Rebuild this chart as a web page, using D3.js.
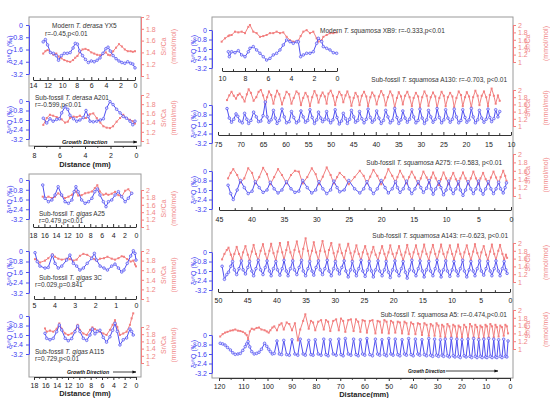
<!DOCTYPE html>
<html>
<head>
<meta charset="utf-8">
<script src="https://cdn.jsdelivr.net/npm/d3@7/dist/d3.min.js"></script>
<style>
  body { margin: 0; background: #fff; }
  svg { font-family: Arial, "Liberation Sans", sans-serif; }
</style>
</head>
<body>
<svg id="chart" width="550" height="398"></svg>
<script>
// ---- values (distance in mm, d18O in permil, Sr/Ca in mmol/mol) ----
const oTicks = [0, -0.8, -1.6, -2.4, -3.2];
const srTicks = [1, 1.2, 1.4, 1.6, 1.8, 2];

const ticksYX5 = [14, 12, 10, 8, 6, 4, 2, 0];
const ticksA201 = [8, 6, 4, 2, 0];
const ticksA25 = [18, 16, 14, 12, 10, 8, 6, 4, 2, 0];
const ticks3C = [5, 4, 3, 2, 1, 0];
const ticksA115 = [18, 16, 14, 12, 10, 8, 6, 4, 2, 0];
const ticksXB9 = [10, 8, 6, 4, 2, 0];
const ticksA130 = [75, 70, 65, 60, 55, 50, 45, 40, 35, 30, 25, 20, 15, 10];
const ticksA275 = [45, 40, 35, 30, 25, 20, 15, 10, 5, 0];
const ticksA143 = [50, 45, 40, 35, 30, 25, 20, 15, 10, 5, 0];
const ticksA5 = [120, 110, 100, 90, 80, 70, 60, 50, 40, 30, 20, 10, 0];

// Modern T. derasa YX5
const yx5Dist = [12.6,12.3,12.0,11.6,11.2,10.8,10.5,10.1,9.7,9.3,8.9,8.5,8.2,7.9,7.6,7.2,6.8,6.4,6.0,5.6,5.2,4.8,4.4,4.0,3.7,3.4,3.0,2.6,2.2,1.8,1.4,1.0,0.6,0.3,0.0];
const yx5O = [-1.1,-0.95,-1.3,-1.8,-1.85,-2.0,-2.3,-2.0,-1.85,-1.85,-1.8,-1.5,-1.2,-1.25,-1.7,-2.0,-2.25,-2.45,-2.35,-2.4,-2.3,-2.15,-1.85,-1.55,-1.45,-1.7,-2.0,-2.2,-2.35,-2.45,-2.5,-2.4,-2.5,-2.55,-2.8];
const yx5Sr = [1.38,1.42,1.44,1.4,1.36,1.38,1.33,1.3,1.27,1.25,1.24,1.27,1.31,1.34,1.4,1.45,1.46,1.44,1.40,1.38,1.36,1.35,1.37,1.4,1.36,1.35,1.42,1.48,1.54,1.50,1.45,1.42,1.42,1.41,1.42];

// Sub-fossil T. derasa A201
const a201Dist = [7.27,7.0,6.75,6.5,6.22,6.0,5.83,5.57,5.35,5.18,4.9,4.65,4.4,4.13,3.92,3.75,3.61,3.35,3.08,2.8,2.56,2.3,2.04,1.8,1.52,1.25,1.0,0.75,0.47,0.25,0.08];
const a201O = [-1.45,-1.85,-1.5,-1.7,-1.55,-1.5,-1.0,-0.5,-0.7,-1.2,-1.5,-1.7,-1.6,-1.4,-0.8,-1.3,-1.7,-1.75,-1.7,-1.6,-1.5,-0.6,-0.05,-0.3,-0.7,-1.0,-1.3,-1.45,-1.7,-2.0,-1.7];
const a201Sr = [1.35,1.5,1.57,1.55,1.52,1.49,1.47,1.4,1.42,1.5,1.53,1.52,1.55,1.5,1.5,1.55,1.58,1.6,1.5,1.4,1.32,1.29,1.28,1.32,1.42,1.5,1.57,1.5,1.46,1.43,1.38];

// Sub-fossil T. gigas A25
const a25Dist = [16.3,15.9,15.3,14.7,14.15,13.6,13.0,12.4,11.8,11.2,10.8,10.5,10.1,9.5,8.9,8.3,7.7,7.2,6.76,6.3,5.7,5.24,4.83,4.24,3.66,3.08,2.5,1.9,1.34,0.75];
const a25O = [-0.41,-1.5,-1.78,-1.64,-1.23,-0.55,-1.23,-1.78,-1.91,-1.64,-0.96,-0.55,-0.96,-1.64,-1.91,-1.78,-1.5,-0.96,-0.74,-1.23,-1.78,-2.19,-1.78,-1.64,-1.23,-0.96,-1.37,-1.78,-1.5,-1.09];
const a25Sr = [1.82,1.78,1.82,1.78,1.82,1.91,1.85,1.78,1.82,1.87,1.95,1.96,1.85,1.86,1.91,1.93,1.96,2.05,2.13,1.96,1.87,1.9,1.87,1.9,1.95,1.86,1.82,1.98,2.02,1.91];

// Sub-fossil T. gigas 3C
const c3Dist = [4.95,4.84,4.71,4.46,4.3,4.1,3.97,3.81,3.64,3.4,3.24,3.07,2.91,2.75,2.58,2.39,2.17,2.04,1.93,1.76,1.57,1.4,1.19,1.03,0.86,0.7,0.59,0.43,0.26,0.13,0.05,0.0];
const c3O = [-0.13,-0.81,-1.15,-1.3,-1.25,-0.31,-0.94,-1.3,-1.15,-0.69,-0.31,-0.94,-1.15,-1.45,-1.3,-0.94,-0.56,-0.18,-0.69,-1.15,-1.3,-1.45,-1.15,-1.0,-1.3,-1.6,-1.45,-0.94,-0.38,0.02,-0.18,-0.69];
const c3Sr = [1.83,1.8,1.76,1.8,1.85,1.93,1.88,1.84,1.82,1.84,1.83,1.8,1.82,1.9,1.94,1.92,1.86,1.83,1.8,1.84,1.85,1.88,1.84,1.82,1.85,1.89,1.88,1.83,1.78,1.8,1.72,1.68];

// Sub-fossil T. gigas A115
const a115Dist = [16.06,15.76,15.18,14.6,14.0,13.53,13.11,12.5,11.95,11.35,10.77,10.3,9.9,9.3,8.7,8.12,7.7,7.24,6.83,6.36,5.78,5.2,4.6,4.12,3.71,3.3,2.83,2.25,1.66,1.07,0.77,0.49];
const a115O = [-1.46,-1.88,-2.0,-1.88,-1.32,-0.76,-1.18,-1.88,-2.08,-1.9,-1.32,-0.85,-1.3,-1.88,-2.05,-1.6,-1.1,-1.5,-1.3,-1.2,-1.8,-2.2,-1.75,-1.2,-0.62,-1.3,-2.44,-2.0,-1.85,-1.1,-1.3,-1.6];
const a115Sr = [1.96,1.87,1.9,1.87,1.95,2.1,1.95,1.82,1.78,1.82,1.9,2.06,1.92,1.82,1.78,1.92,1.99,1.94,1.9,1.87,1.82,1.78,1.92,2.06,2.19,2.0,1.78,1.82,1.87,2.06,2.24,2.38];

// Modern T. squamosa XB9 (no d18O at the first two samples)
const xb9Dist = [10.03,9.74,9.45,9.36,9.16,8.87,8.58,8.29,8.0,7.71,7.57,7.28,6.99,6.7,6.41,6.12,5.83,5.54,5.25,4.96,4.67,4.38,4.09,3.8,3.51,3.36,3.16,2.93,2.64,2.35,2.06,1.77,1.62,1.33,1.19,0.9,0.61,0.32,0.03];
const xb9O = [null,null,-1.83,-2.25,-1.83,-1.91,-1.74,-2.1,-2.25,-1.83,-1.54,-1.4,-1.68,-1.96,-2.25,-2.53,-2.39,-2.1,-1.96,-1.68,-1.26,-0.84,-0.98,-1.12,-0.98,-1.0,-2.25,-2.1,-1.96,-1.96,-1.83,-1.12,-0.7,-0.98,-1.4,-1.54,-1.68,-1.91,-1.96];
const xb9Sr = [1.55,1.64,1.7,1.72,1.73,1.82,1.8,1.82,1.78,1.95,2.0,1.82,1.78,1.68,1.7,1.73,1.78,1.78,1.82,1.78,1.8,1.68,1.59,1.55,1.55,1.58,1.7,1.82,1.86,1.78,1.82,1.64,1.55,1.59,1.68,1.73,1.78,1.78,1.8];

// Sub-fossil T. squamosa A130
const a130Dist = [73.0,72.5,72.0,71.5,71.0,70.6,70.2,69.6,69.1,68.6,68.2,67.7,67.1,66.5,66.0,65.5,65.0,64.5,64.1,63.7,63.2,62.7,62.3,61.9,61.4,60.8,60.3,59.8,59.2,58.7,58.2,57.6,57.1,56.6,56.1,55.6,55.1,54.6,54.1,53.6,53.1,52.7,52.2,51.8,51.3,50.9,50.5,50.0,49.5,49.0,48.6,48.1,47.6,47.2,46.7,46.3,45.8,45.4,44.9,44.5,44.0,43.6,43.1,42.6,42.1,41.7,41.2,40.8,40.3,39.8,39.3,38.8,38.3,37.8,37.3,36.8,36.3,35.8,35.3,34.9,34.4,34.0,33.5,33.0,32.5,32.0,31.6,31.1,30.6,30.2,29.7,29.2,28.7,28.3,27.8,27.3,26.8,26.4,25.9,25.4,24.9,24.5,24.0,23.5,23.0,22.6,22.1,21.6,21.1,20.7,20.2,19.8,19.3,18.8,18.4,17.9,17.4,17.0,16.5,16.0,15.5,15.1,14.7,14.3,13.8,13.4,12.9,12.5];
const a130O = [-0.30,-1.10,-1.45,-1.20,-0.75,-0.95,-1.35,-1.50,-0.70,-1.20,-1.55,-1.30,-0.60,-1.00,-1.40,-1.35,-0.90,0.25,-1.00,-1.45,-1.25,-0.45,-1.10,-1.55,-1.30,-0.35,-1.00,-1.50,-1.40,-0.55,-1.05,-1.50,-1.35,-0.50,-1.00,-1.45,-1.30,-0.40,-1.05,-1.55,-1.25,-0.60,-1.10,-1.40,-1.20,-0.55,-1.25,-1.50,-1.25,-0.40,-1.05,-1.60,-1.35,-0.70,-1.15,-1.55,-1.20,-0.45,-1.00,-1.45,-1.30,-0.55,-1.15,-1.50,-1.20,-0.35,-1.05,-1.45,-1.25,-0.50,-1.10,-1.55,-1.30,-0.45,-1.00,-1.50,-1.30,-0.30,-1.05,-1.55,-1.25,-0.50,-1.10,-1.45,-1.20,-0.40,-1.00,-1.50,-1.30,-0.35,-1.10,-1.55,-1.25,-0.45,-1.00,-1.45,-1.20,-0.30,-1.05,-1.50,-1.25,-0.40,-1.10,-1.45,-1.20,-0.35,-1.00,-1.50,-1.30,-0.40,-1.05,-1.45,-1.25,-0.30,-1.00,-1.50,-1.25,-0.45,-1.10,-1.45,-1.20,-0.35,-1.05,-1.40,-1.15,-0.40,-1.00,-0.55];
const a130Sr = [1.72,1.85,1.95,1.84,1.76,1.86,1.90,1.80,1.68,1.88,2.02,1.92,1.70,1.80,1.95,2.00,1.85,1.62,1.80,1.96,1.86,1.62,1.82,1.98,1.88,1.60,1.78,1.95,1.88,1.62,1.78,1.96,1.90,1.58,1.78,1.92,1.82,1.55,1.80,1.97,1.85,1.65,1.84,1.93,1.82,1.62,1.90,1.98,1.84,1.58,1.80,1.95,1.86,1.66,1.85,1.96,1.80,1.56,1.78,1.92,1.82,1.58,1.84,1.95,1.82,1.55,1.80,1.93,1.84,1.60,1.82,1.97,1.86,1.57,1.80,1.96,1.85,1.52,1.78,1.94,1.82,1.60,1.84,1.95,1.80,1.55,1.78,1.92,1.82,1.52,1.80,1.96,1.84,1.56,1.80,1.93,1.82,1.50,1.78,1.95,1.84,1.55,1.80,1.92,1.82,1.52,1.78,1.96,1.86,1.55,1.80,1.94,1.82,1.52,1.80,1.98,1.84,1.58,1.84,1.96,1.80,1.55,1.86,2.04,1.84,1.62,1.85,1.70];

// Sub-fossil T. squamosa A275
const a275Dist = [43.6,43.2,42.8,42.2,41.7,41.1,40.5,39.9,39.4,38.8,38.2,37.6,37.1,36.5,35.9,35.3,34.6,33.9,33.3,32.7,32.1,31.4,30.7,30.1,29.6,29.0,28.4,27.8,27.3,26.8,26.4,25.7,25.0,24.1,23.3,22.7,22.2,21.7,21.2,20.6,20.0,19.4,18.9,18.3,17.8,17.5,17.1,16.6,16.1,15.7,15.3,14.8,14.3,13.9,13.5,13.0,12.6,12.3,12.0,11.6,11.1,10.8,10.4,10.0,9.6,9.3,8.9,8.5,8.1,7.8,7.4,7.0,6.6,6.2,5.8,5.4,5.0,4.7,4.3,3.9,3.5,3.1,2.7,2.3,1.9,1.6,1.2,0.9,0.7];
const a275O = [-1.2,-1.9,-2.4,-1.6,-0.8,-1.4,-1.9,-1.7,-0.9,-1.4,-1.8,-1.6,-0.95,-1.5,-1.85,-1.6,-0.9,-1.5,-1.8,-1.7,-0.8,-1.4,-1.85,-1.6,-0.9,-1.5,-1.9,-1.6,-0.85,-1.4,-1.75,-1.6,-0.8,-1.5,-1.85,-1.5,-0.9,-1.5,-1.9,-1.5,-0.8,-1.4,-1.85,-1.5,-0.9,-1.4,-1.8,-1.5,-0.85,-1.5,-1.9,-1.5,-0.9,-1.4,-1.8,-1.45,-0.8,-1.5,-1.95,-1.5,-0.9,-1.4,-2.0,-1.6,-0.85,-1.5,-1.9,-1.5,-0.9,-1.6,-2.05,-1.6,-0.9,-1.5,-1.9,-1.5,-0.85,-1.6,-1.95,-1.5,-0.9,-1.5,-1.9,-1.5,-0.95,-1.5,-1.85,-1.4,-1.0];
const a275Sr = [1.42,1.55,1.64,1.50,1.32,1.42,1.66,1.55,1.30,1.45,1.67,1.52,1.28,1.45,1.64,1.50,1.30,1.50,1.60,1.58,1.30,1.45,1.66,1.52,1.28,1.46,1.68,1.50,1.30,1.45,1.55,1.45,1.28,1.45,1.60,1.48,1.30,1.46,1.62,1.48,1.28,1.44,1.64,1.48,1.32,1.45,1.60,1.46,1.30,1.45,1.58,1.44,1.28,1.42,1.58,1.44,1.30,1.44,1.56,1.42,1.26,1.40,1.56,1.42,1.28,1.42,1.55,1.40,1.27,1.42,1.56,1.42,1.28,1.42,1.58,1.42,1.28,1.42,1.55,1.40,1.28,1.44,1.58,1.44,1.30,1.45,1.60,1.48,1.36];

// Sub-fossil T. squamosa A143
const a143Dist = [49.3,48.9,48.5,48.2,47.8,47.5,47.2,46.8,46.4,46.0,45.7,45.3,44.9,44.6,44.2,43.9,43.5,43.1,42.7,42.3,41.9,41.6,41.2,40.9,40.5,40.1,39.8,39.4,39.0,38.7,38.3,38.0,37.6,37.2,36.9,36.5,36.1,35.7,35.4,35.0,34.6,34.3,33.9,33.6,33.2,32.8,32.5,32.1,31.7,31.3,31.0,30.6,30.2,29.9,29.5,29.2,28.8,28.4,28.1,27.7,27.3,27.0,26.6,26.3,25.9,25.5,25.2,24.8,24.4,24.1,23.7,23.4,23.0,22.6,22.3,21.9,21.5,21.2,20.8,20.5,20.1,19.7,19.4,19.0,18.6,18.3,17.9,17.6,17.2,16.8,16.5,16.1,15.7,15.4,15.0,14.7,14.3,13.9,13.6,13.2,12.8,12.5,12.1,11.8,11.4,11.0,10.7,10.3,9.9,9.6,9.2,8.9,8.5,8.1,7.8,7.4,7.0,6.7,6.3,6.0,5.6,5.2,4.9,4.5,4.1,3.8,3.4,3.1,2.7,2.4,2.0,1.7,1.3,1.0,0.7,0.5];
const a143O = [-1.2,-2.3,-1.9,-1.7,-1.2,-0.8,-1.5,-1.9,-1.4,-0.75,-1.5,-1.85,-1.3,-0.8,-1.6,-2.0,-1.4,-0.7,-1.5,-1.9,-1.3,-0.75,-1.6,-2.0,-1.4,-0.8,-1.5,-1.95,-1.4,-0.7,-1.6,-2.0,-1.4,-0.75,-1.5,-1.9,-1.3,-0.7,-1.6,-2.0,-1.4,-0.8,-1.6,-1.95,-1.3,-0.75,-1.5,-1.9,-1.4,-0.7,-1.6,-2.0,-1.4,-0.8,-1.5,-1.85,-1.3,-0.75,-1.6,-2.1,-1.5,-0.8,-1.6,-2.0,-1.4,-0.7,-1.6,-2.05,-1.5,-0.8,-1.6,-2.1,-1.5,-0.75,-1.6,-2.0,-1.5,-0.8,-1.7,-2.15,-1.5,-0.75,-1.6,-2.0,-1.4,-0.8,-1.7,-2.2,-1.5,-0.7,-1.6,-2.0,-1.4,-0.75,-1.6,-2.1,-1.5,-0.8,-1.6,-2.0,-1.4,-0.7,-1.6,-2.1,-1.5,-0.75,-1.6,-2.05,-1.5,-0.8,-1.6,-2.0,-1.4,-0.7,-1.6,-2.1,-1.5,-0.8,-1.6,-2.0,-1.4,-0.75,-1.6,-1.95,-1.4,-0.8,-1.6,-2.0,-1.4,-0.75,-1.6,-2.0,-1.4,-0.8,-1.5,-1.8];
const a143Sr = [1.58,1.72,1.82,1.88,1.70,1.58,1.72,1.90,1.72,1.58,1.76,1.92,1.70,1.56,1.78,1.95,1.72,1.55,1.80,1.97,1.72,1.56,1.80,1.98,1.74,1.55,1.78,2.00,1.76,1.57,1.82,2.02,1.76,1.58,1.82,2.04,1.78,1.56,1.85,2.12,1.80,1.58,1.80,2.02,1.76,1.56,1.80,2.05,1.78,1.55,1.82,2.00,1.74,1.56,1.78,1.96,1.74,1.57,1.80,1.98,1.74,1.56,1.78,1.94,1.72,1.55,1.76,1.92,1.72,1.56,1.76,1.90,1.70,1.55,1.74,1.92,1.72,1.57,1.76,1.94,1.72,1.56,1.74,1.92,1.70,1.55,1.76,1.95,1.72,1.56,1.76,1.94,1.72,1.55,1.78,1.96,1.72,1.56,1.76,1.95,1.72,1.55,1.78,1.96,1.72,1.56,1.76,1.94,1.72,1.57,1.78,1.96,1.72,1.55,1.76,1.94,1.72,1.56,1.78,1.97,1.74,1.57,1.76,1.92,1.70,1.56,1.78,1.96,1.72,1.57,1.80,1.95,1.72,1.58,1.70,1.62];

// Sub-fossil T. squamosa A5
const a5Dist = [119.5,118.5,117.5,116.5,115.3,114.3,113.3,112.2,111.2,110.2,109.2,108.6,108.0,107.3,106.5,105.5,104.5,103.5,102.5,101.2,100.3,99.5,98.8,98.0,97.2,
  96.1,95.1,94.2,93.3,92.1,91.0,89.9,88.7,87.5,86.5,85.3,84.4,83.0,82.1,81.2,80.3,79.1,77.9,76.8,75.9,75.0,74.1,72.9,71.7,70.6,69.7,68.8,67.9,66.7,65.6,64.5,63.5,62.6,61.7,60.8,59.9,59.0,57.8,56.7,55.5,54.6,53.7,52.8,51.8,50.9,50.0,49.1,48.2,47.3,46.3,45.4,44.5,43.5,42.7,41.8,40.8,39.9,39.0,38.0,37.2,36.3,35.3,34.4,33.5,32.7,31.9,31.1,30.3,29.5,28.7,28.0,27.4,26.7,25.8,25.0,24.2,23.4,22.7,21.9,21.2,20.5,19.8,18.9,18.1,17.3,16.5,15.8,15.0,14.3,13.6,12.9,12.2,11.5,10.8,10.1,9.5,8.8,8.1,7.4,6.7,6.0,5.4,4.7,4.0,3.3,2.6,1.9,1.3,0.8];
const a5O = [-0.70,-0.75,-0.85,-1.05,-1.26,-1.5,-1.63,-1.6,-1.55,-1.3,-0.98,-0.75,-0.56,-1.0,-1.4,-1.6,-1.55,-1.45,-1.2,-0.7,-0.95,-1.2,-1.4,-1.6,-1.55,
  -0.5,-1.6,-1.65,-0.45,-1.65,-1.7,-0.4,-1.6,-1.7,-0.35,-1.6,-1.7,-0.45,-1.65,-1.7,-0.4,-1.6,-1.7,-0.35,-1.65,-1.75,-0.4,-1.6,-1.7,-0.35,-1.65,-1.75,-0.3,-1.6,-1.7,-0.35,-1.65,-1.75,-0.4,-1.6,-1.7,-0.3,-1.65,-1.75,-0.35,-1.6,-1.7,-0.4,-1.65,-1.75,-0.3,-1.6,-1.7,-0.35,-1.65,-1.75,-0.4,-1.6,-1.7,-0.3,-1.65,-1.75,-0.35,-1.6,-1.7,-0.4,-1.65,-1.75,-0.3,-1.7,-1.8,-0.35,-1.7,-1.8,-0.4,-1.7,-1.8,-0.35,-1.75,-1.85,-0.3,-1.75,-1.85,-0.35,-1.8,-1.9,-0.4,-1.75,-1.85,-0.35,-1.8,-1.9,-0.3,-1.8,-1.9,-0.4,-1.8,-1.9,-0.35,-1.85,-1.9,-0.3,-1.8,-1.9,-0.35,-1.85,-1.9,-0.4,-1.8,-1.9,-0.35,-1.8,-1.85,-0.5];
const a5Sr = [1.32,1.38,1.42,1.44,1.47,1.48,1.50,1.47,1.46,1.44,1.40,1.36,1.25,1.45,1.52,1.50,1.54,1.55,1.50,1.48,1.45,1.42,1.48,1.55,1.58,
  1.48,1.62,1.66,1.50,1.68,1.64,1.48,1.66,1.22,1.50,1.72,1.89,1.52,1.72,1.68,1.48,1.70,1.74,1.50,1.74,1.70,1.46,1.72,1.76,1.48,1.78,1.72,1.44,1.74,1.76,1.46,1.76,1.70,1.44,1.74,1.72,1.42,1.72,1.74,1.40,1.72,1.70,1.42,1.74,1.70,1.40,1.72,1.68,1.42,1.70,1.68,1.40,1.70,1.66,1.38,1.68,1.64,1.38,1.66,1.64,1.36,1.66,1.62,1.34,1.64,1.60,1.34,1.66,1.60,1.32,1.62,1.58,1.30,1.64,1.58,1.32,1.62,1.58,1.30,1.60,1.56,1.30,1.62,1.56,1.28,1.64,1.58,1.30,1.62,1.56,1.28,1.60,1.56,1.28,1.62,1.58,1.30,1.64,1.58,1.30,1.62,1.56,1.32,1.60,1.56,1.34,1.62,1.58,1.40];

// ---- layout ----
const blue = '#4f4ff0', pink = '#f27f7f';
const blueText = '#3b3bf2', pinkText = '#f08585';

const cols = {
  L: { oAxisX: 29, srAxisX: 141, oLabelX: 11.5, srLabelX: [165.5, 175.5], oPad: 3 },
  R: { oAxisX: 212, srAxisX: 513, oLabelX: 196, srLabelX: [529.5, 547.5], oPad: 2 }
};

const frames = [
  { x: 29, y: 17, w: 112, h: 129 },
  { x: 29, y: 174, w: 112, h: 203 },
  { x: 212, y: 17, w: 301, h: 361 }
];

const panels = [
  { col: 'L', dist: yx5Dist, o: yx5O, sr: yx5Sr, xTicks: ticksYX5, xPx: [33, 135], oPx: [25, 74], srPx: [76, 17], axisY: 80, up: true, gap: 5.5,
    title: [{ x: 52, y: 28, parts: [['Modern ', 0], ['T. derasa', 1], [' YX5', 0]] }, { x: 45, y: 36, parts: [['r=-0.45,p<0.01', 0]] }] },
  { col: 'L', dist: a201Dist, o: a201O, sr: a201Sr, xTicks: ticksA201, xPx: [34, 136], oPx: [101, 139], srPx: [141, 95], axisY: 146, up: false, gap: 9.5,
    title: [{ x: 35, y: 100, parts: [['Sub-fossil ', 0], ['T. derasa', 1], [' A201', 0]] }, { x: 35, y: 107, parts: [['r=-0.599,p<0.01', 0]] }] },
  { col: 'L', dist: a25Dist, o: a25O, sr: a25Sr, xTicks: ticksA25, xPx: [33, 136], oPx: [180, 219], srPx: [227, 190], axisY: 227, up: true, gap: 9,
    title: [{ x: 39, y: 216, parts: [['Sub-fossil ', 0], ['T. gigas', 1], [' A25', 0]] }, { x: 39, y: 223, parts: [['r=0.479,p<0.01', 0]] }] },
  { col: 'L', dist: c3Dist, o: c3O, sr: c3Sr, xTicks: ticks3C, xPx: [34, 136], oPx: [251, 293], srPx: [299, 251], axisY: 299, up: true, gap: 7,
    title: [{ x: 39, y: 280, parts: [['Sub-fossil ', 0], ['T. gigas', 1], [' 3C', 0]] }, { x: 35, y: 287, parts: [['r=0.029,p=0.841', 0]] }] },
  { col: 'L', dist: a115Dist, o: a115O, sr: a115Sr, xTicks: ticksA115, xPx: [34, 136], oPx: [316, 354], srPx: [363, 327], axisY: 377, up: false, gap: 9,
    title: [{ x: 35, y: 354, parts: [['Sub-fossil ', 0], ['T. gigas', 1], [' A115', 0]] }, { x: 35, y: 361, parts: [['r=0.729,p<0.01', 0]] }] },
  { col: 'R', dist: xb9Dist, o: xb9O, sr: xb9Sr, xTicks: ticksXB9, xPx: [222, 337], oPx: [30, 68], srPx: [62, 25], axisY: 71, up: true, gap: 8,
    title: [{ x: 320, y: 33, parts: [['Modern ', 0], ['T. squamosa', 1], [' XB9: r=-0.333,p<0.01', 0]] }] },
  { col: 'R', dist: a130Dist, o: a130O, sr: a130Sr, xTicks: ticksA130, xPx: [218, 511], oPx: [105, 143], srPx: [126, 90], axisY: 135, up: true, gap: 10,
    title: [{ x: 507, y: 82, anchor: 'end', parts: [['Sub-fossil ', 0], ['T. squamosa', 1], [' A130: r=-0.703, p<0.01', 0]] }] },
  { col: 'R', dist: a275Dist, o: a275O, sr: a275Sr, xTicks: ticksA275, xPx: [219, 511], oPx: [171, 209], srPx: [196, 154], axisY: 210, up: true, gap: 9.5,
    title: [{ x: 502, y: 165, anchor: 'end', parts: [['Sub-fossil ', 0], ['T. squamosa', 1], [' A275: r=-0.583, p<0.01', 0]] }] },
  { col: 'R', dist: a143Dist, o: a143O, sr: a143Sr, xTicks: ticksA143, xPx: [218, 510], oPx: [252, 290], srPx: [282, 243], axisY: 292, up: true, gap: 9,
    title: [{ x: 508, y: 238, anchor: 'end', parts: [['Sub-fossil ', 0], ['T. squamosa', 1], [' A143: r=-0.623, p<0.01', 0]] }] },
  { col: 'R', dist: a5Dist, o: a5O, sr: a5Sr, xTicks: ticksA5, xPx: [219, 510], oPx: [335, 373], srPx: [349, 310], axisY: 378, up: false, gap: 9,
    title: [{ x: 507, y: 317, anchor: 'end', parts: [['Sub-fossil ', 0], ['T. squamosa', 1], [' A5: r=-0.474,p<0.01', 0]] }] }
];

const distanceLabels = [
  { x: 85, y: 167, text: 'Distance (mm)' },
  { x: 85, y: 396, text: 'Distance (mm)' },
  { x: 364, y: 397, text: 'Distance(mm)' }
];

const growth = [
  { x: 62, y: 144, size: 5.6, x1: 114, x2: 137 },
  { x: 67, y: 374, size: 5.2, x1: 113, x2: 136 },
  { x: 408, y: 373, size: 4.6, x1: 446, x2: 498 }
];

const svg = d3.select('#chart');

svg.append('defs').append('marker')
  .attr('id', 'arrow').attr('viewBox', '0 0 10 10').attr('refX', 9).attr('refY', 5)
  .attr('markerWidth', 5).attr('markerHeight', 5).attr('orient', 'auto')
  .append('path').attr('d', 'M0,1 L10,5 L0,9 Z').attr('fill', '#111');

svg.selectAll('rect.frame').data(frames).join('rect')
  .attr('class', 'frame')
  .attr('x', d => d.x).attr('y', d => d.y).attr('width', d => d.w).attr('height', d => d.h)
  .attr('fill', 'none').attr('stroke', '#9a9a9a').attr('stroke-width', 1);

function styleAxis(a, color, size) {
  a.attr('font-size', size).attr('font-family', null);
  a.select('.domain').attr('stroke', color);
  a.selectAll('.tick line').attr('stroke', color);
  a.selectAll('.tick text').attr('fill', color);
}

panels.forEach(p => {
  const col = cols[p.col];
  const x = d3.scaleLinear().domain([p.xTicks[0], p.xTicks[p.xTicks.length - 1]]).range(p.xPx);
  const yO = d3.scaleLinear().domain([0, -3.2]).range(p.oPx);
  const ySr = d3.scaleLinear().domain([1, 2]).range(p.srPx);
  const rows = p.dist.map((d, i) => ({ d: d, o: p.o[i], sr: p.sr[i] }));
  const g = svg.append('g');

  // bottom distance axis
  const xAxis = d3.axisBottom(x).tickValues(p.xTicks).tickSizeOuter(0)
    .tickSizeInner(p.up ? -3 : 3).tickFormat(d => String(d));
  const ax = g.append('g').attr('transform', `translate(0,${p.axisY})`).call(xAxis);
  styleAxis(ax, '#333', 7);
  ax.selectAll('.tick text').attr('fill', '#222').attr('y', p.gap).attr('dy', '0.35em');
  const minor = d3.pairs(p.xTicks).map(t => (t[0] + t[1]) / 2);
  ax.selectAll('line.minor').data(minor).join('line')
    .attr('class', 'minor')
    .attr('x1', d => x(d)).attr('x2', d => x(d))
    .attr('y1', 0).attr('y2', p.up ? -1.8 : 1.8)
    .attr('stroke', '#333');

  // d18O axis (left)
  const oAxis = d3.axisLeft(yO).tickValues(oTicks).tickSize(3).tickSizeOuter(0).tickPadding(col.oPad)
    .tickFormat(d => d === 0 ? '0' : d.toFixed(1));
  const ao = g.append('g').attr('transform', `translate(${col.oAxisX},0)`).call(oAxis);
  styleAxis(ao, blue, 7);
  ao.selectAll('.tick text').attr('fill', blueText);

  // Sr/Ca axis (right)
  const srAxis = d3.axisRight(ySr).tickValues(srTicks).tickSize(3).tickSizeOuter(0).tickPadding(2)
    .tickFormat(d => (d === 1 || d === 2) ? String(d) : d.toFixed(1));
  const as = g.append('g').attr('transform', `translate(${col.srAxisX},0)`).call(srAxis);
  styleAxis(as, pink, 7);
  as.selectAll('.tick text').attr('fill', pinkText);

  // axis titles
  const oMid = (p.oPx[0] + p.oPx[1]) / 2;
  g.append('text')
    .attr('transform', `translate(${col.oLabelX},${oMid}) rotate(-90)`)
    .attr('text-anchor', 'middle').attr('font-size', 7).attr('fill', blueText)
    .text('δ¹⁸O (‰)');
  const srMid = (p.srPx[0] + p.srPx[1]) / 2;
  ['Sr/Ca', '(mmol/mol)'].forEach((t, i) => {
    g.append('text')
      .attr('transform', `translate(${col.srLabelX[i]},${srMid}) rotate(-90)`)
      .attr('text-anchor', 'middle').attr('font-size', 7).attr('fill', pinkText)
      .text(t);
  });

  // Sr/Ca series
  g.append('path').datum(rows)
    .attr('d', d3.line().x(r => x(r.d)).y(r => ySr(r.sr)))
    .attr('fill', 'none').attr('stroke', pink).attr('stroke-width', 1);
  g.selectAll('rect.sr').data(rows).join('rect')
    .attr('class', 'sr')
    .attr('x', r => x(r.d) - 1).attr('y', r => ySr(r.sr) - 1)
    .attr('width', 2).attr('height', 2).attr('fill', pink);

  // d18O series
  g.append('path').datum(rows)
    .attr('d', d3.line().defined(r => r.o != null).x(r => x(r.d)).y(r => yO(r.o)))
    .attr('fill', 'none').attr('stroke', blue).attr('stroke-width', 1);
  g.selectAll('circle.o').data(rows.filter(r => r.o != null)).join('circle')
    .attr('class', 'o')
    .attr('cx', r => x(r.d)).attr('cy', r => yO(r.o)).attr('r', 1.3)
    .attr('fill', '#dcdcff').attr('stroke', blue).attr('stroke-width', 0.7);

  // sample name and correlation
  p.title.forEach(t => {
    const txt = g.append('text')
      .attr('x', t.x).attr('y', t.y)
      .attr('text-anchor', t.anchor || 'start')
      .attr('font-size', 6.5).attr('fill', '#333');
    t.parts.forEach(part => {
      txt.append('tspan').text(part[0]).attr('font-style', part[1] ? 'italic' : null);
    });
  });
});

svg.selectAll('text.dist').data(distanceLabels).join('text')
  .attr('class', 'dist')
  .attr('x', d => d.x).attr('y', d => d.y)
  .attr('text-anchor', 'middle').attr('font-size', 7.5).attr('font-weight', 'bold').attr('fill', '#222')
  .text(d => d.text);

growth.forEach(gd => {
  svg.append('text')
    .attr('x', gd.x).attr('y', gd.y)
    .attr('font-size', gd.size).attr('font-weight', 'bold').attr('font-style', 'italic').attr('fill', '#111')
    .text('Growth Direction');
  svg.append('line')
    .attr('x1', gd.x1).attr('x2', gd.x2).attr('y1', gd.y - 2).attr('y2', gd.y - 2)
    .attr('stroke', '#111').attr('stroke-width', 0.8)
    .attr('marker-end', 'url(#arrow)');
});
</script>
</body>
</html>
